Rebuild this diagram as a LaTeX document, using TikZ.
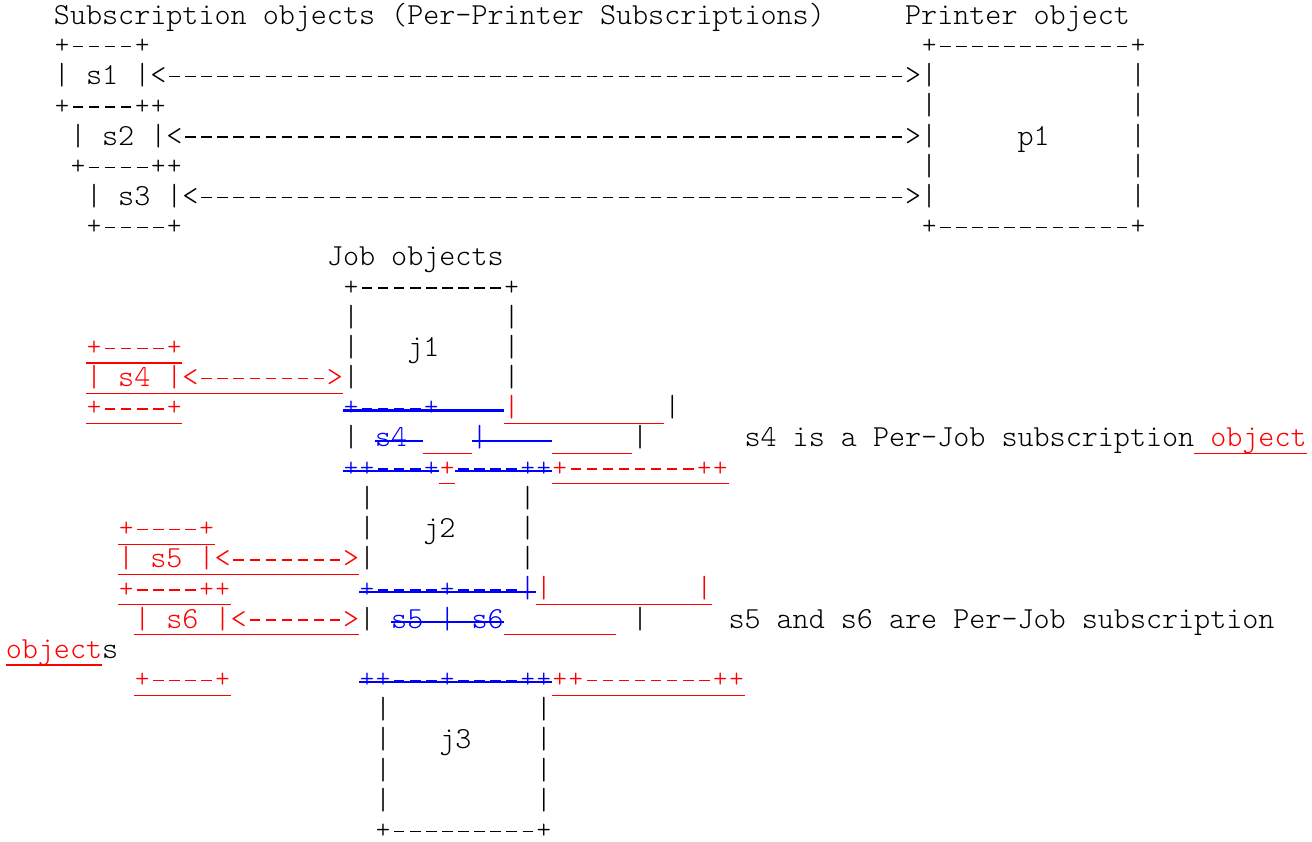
\documentclass[tikz,border=0pt]{standalone}
\usepackage{graphicx}
\usepackage{fontspec}
\setmonofont{Latin Modern Mono Light}
\ExplSyntaxOn
\cs_new:Npn \myrep #1#2 {\prg_replicate:nn{#1}{#2}}
\ExplSyntaxOff
\newcommand\hy{\makebox[0.525em]{\rule[0.235em]{0.34em}{0.05em}}}
\newcommand\hh[1]{\myrep{#1}{\hy}}
\newcommand\pl{\makebox[0.525em]{\raisebox{0.026em}{\scalebox{0.9}{+}}}}
\definecolor{insred}{RGB}{255,0,0}
\definecolor{delblue}{RGB}{0,0,255}
\def\gcw{16.06}
\def\gxo{5.8}
\def\grh{30.19}
\def\gby{24.3}
\def\guy{31}
\def\gsy{18}
\tikzset{
  txt/.style={font=\ttfamily\fontsize{30.59}{36}\selectfont, inner sep=0pt, outer sep=0pt, anchor=base west},
  ulin/.style={draw=insred, line width=1.2pt},
  stk/.style={draw=delblue, line width=2.2pt}
}
\newcommand\mtx[5]{\node[txt,text=#4] (#1) at ({\gxo+\gcw*#2},{\gby+\grh*#3}) {#5};}
\newcommand\mul[3]{\draw[ulin] ({\gxo+\gcw*#1},{\guy+\grh*#3}) -- ({\gxo+\gcw*#2},{\guy+\grh*#3});}
\newcommand\mst[3]{\draw[stk] ({\gxo+\gcw*#1},{\gsy+\grh*#3}) -- ({\gxo+\gcw*#2},{\gsy+\grh*#3});}
\begin{document}
\begin{tikzpicture}[x=1pt,y=-1pt]
\path[use as bounding box, fill=white] (0,0) rectangle (1312,842);
% row 0
\mtx{t0a}{3}{0}{black}{Subscription objects (Per-Printer Subscriptions)}
\mtx{t0b}{56}{0}{black}{Printer object}
% row 1
\mtx{t1a}{3}{1}{black}{\pl\hh{4}\pl}
\mtx{t1b}{57}{1}{black}{\pl\hh{12}\pl}
% row 2
\mtx{t2a}{3}{2}{black}{| s1 |<\hh{46}>|}
\mtx{t2b}{70}{2}{black}{|}
% row 3
\mtx{t3a}{3}{3}{black}{\pl\hh{4}\pl\pl}
\mtx{t3b}{57}{3}{black}{|}
\mtx{t3c}{70}{3}{black}{|}
% row 4
\mtx{t4a}{4}{4}{black}{| s2 |<\hh{45}>|}
\mtx{t4b}{63}{4}{black}{p1}
\mtx{t4c}{70}{4}{black}{|}
% row 5
\mtx{t5a}{4}{5}{black}{\pl\hh{4}\pl\pl}
\mtx{t5b}{57}{5}{black}{|}
\mtx{t5c}{70}{5}{black}{|}
% row 6
\mtx{t6a}{5}{6}{black}{| s3 |<\hh{44}>|}
\mtx{t6b}{70}{6}{black}{|}
% row 7
\mtx{t7a}{5}{7}{black}{\pl\hh{4}\pl}
\mtx{t7b}{57}{7}{black}{\pl\hh{12}\pl}
% row 8
\mtx{t8a}{20}{8}{black}{Job objects}
% row 9
\mtx{t9a}{21}{9}{black}{\pl\hh{9}\pl}
% row 10
\mtx{t10a}{21}{10}{black}{|}
\mtx{t10b}{31}{10}{black}{|}
% row 11
\mtx{t11a}{5}{11}{insred}{\pl\hh{4}\pl}
\mul{5}{11}{11}
\mtx{t11b}{21}{11}{black}{|}
\mtx{t11c}{25}{11}{black}{j1}
\mtx{t11d}{31}{11}{black}{|}
% row 12
\mtx{t12a}{5}{12}{insred}{| s4 |<\hh{8}>}
\mul{5}{21}{12}
\mtx{t12b}{21}{12}{black}{|}
\mtx{t12c}{31}{12}{black}{|}
% row 13
\mtx{t13a}{5}{13}{insred}{\pl\hh{4}\pl}
\mul{5}{11}{13}
\mtx{t13b}{21}{13}{delblue}{\pl\hh{4}\pl}
\mst{21}{31}{13}
\mtx{t13c}{31}{13}{insred}{|}
\mul{31}{41}{13}
\mtx{t13d}{41}{13}{black}{|}
% row 14
\mtx{t14a}{21}{14}{black}{|}
\mtx{t14b}{23}{14}{delblue}{s4}
\mst{23}{26}{14}
\mul{26}{29}{14}
\mtx{t14c}{29}{14}{delblue}{|}
\mst{29}{34}{14}
\mul{34}{39}{14}
\mtx{t14d}{39}{14}{black}{|}
\mtx{t14e}{46}{14}{black}{s4 is a Per-Job subscription}
\mtx{t14f}{75}{14}{insred}{object}
\mul{74}{81}{14}
% row 15
\mtx{t15a}{21}{15}{delblue}{\pl\pl\hh{3}\pl}
\mst{21}{27}{15}
\mtx{t15b}{27}{15}{insred}{\pl}
\mul{27}{28}{15}
\mtx{t15c}{28}{15}{delblue}{\hh{4}\pl\pl}
\mst{28}{34}{15}
\mtx{t15d}{34}{15}{insred}{\pl\hh{8}\pl\pl}
\mul{34}{45}{15}
% row 16
\mtx{t16a}{22}{16}{black}{|}
\mtx{t16b}{32}{16}{black}{|}
% row 17
\mtx{t17a}{7}{17}{insred}{\pl\hh{4}\pl}
\mul{7}{13}{17}
\mtx{t17b}{22}{17}{black}{|}
\mtx{t17c}{26}{17}{black}{j2}
\mtx{t17d}{32}{17}{black}{|}
% row 18
\mtx{t18a}{7}{18}{insred}{| s5 |<\hh{7}>}
\mul{7}{22}{18}
\mtx{t18b}{22}{18}{black}{|}
\mtx{t18c}{32}{18}{black}{|}
% row 19
\mtx{t19a}{7}{19}{insred}{\pl\hh{4}\pl\pl}
\mul{7}{14}{19}
\mtx{t19b}{22}{19}{delblue}{\pl\hh{4}\pl\hh{4}|}
\mst{22}{33}{19}
\mtx{t19c}{33}{19}{insred}{|}
\mtx{t19d}{43}{19}{insred}{|}
\mul{33}{44}{19}
% row 20
\mtx{t20a}{8}{20}{insred}{| s6 |<\hh{6}>}
\mul{8}{22}{20}
\mtx{t20b}{22}{20}{black}{|}
\mtx{t20c}{24}{20}{delblue}{s5 | s6}
\mst{24}{31}{20}
\mul{31}{38}{20}
\mtx{t20d}{39}{20}{black}{|}
\mtx{t20e}{45}{20}{black}{s5 and s6 are Per-Job subscription}
% row 21
\mtx{t21a}{0}{21}{insred}{object}
\mul{0}{6}{21}
\mtx{t21b}{6}{21}{black}{s}
% row 22
\mtx{t22a}{8}{22}{insred}{\pl\hh{4}\pl}
\mul{8}{14}{22}
\mtx{t22b}{22}{22}{delblue}{\pl\pl\hh{3}\pl\hh{4}\pl\pl}
\mst{22}{34}{22}
\mtx{t22c}{34}{22}{insred}{\pl\pl\hh{8}\pl\pl}
\mul{34}{46}{22}
% rows 23-26
\mtx{t23a}{23}{23}{black}{|}
\mtx{t23b}{33}{23}{black}{|}
\mtx{t24a}{23}{24}{black}{|}
\mtx{t24b}{27}{24}{black}{j3}
\mtx{t24c}{33}{24}{black}{|}
\mtx{t25a}{23}{25}{black}{|}
\mtx{t25b}{33}{25}{black}{|}
\mtx{t26a}{23}{26}{black}{|}
\mtx{t26b}{33}{26}{black}{|}
% row 27
\mtx{t27a}{23}{27}{black}{\pl\hh{9}\pl}
\end{tikzpicture}
\end{document}
